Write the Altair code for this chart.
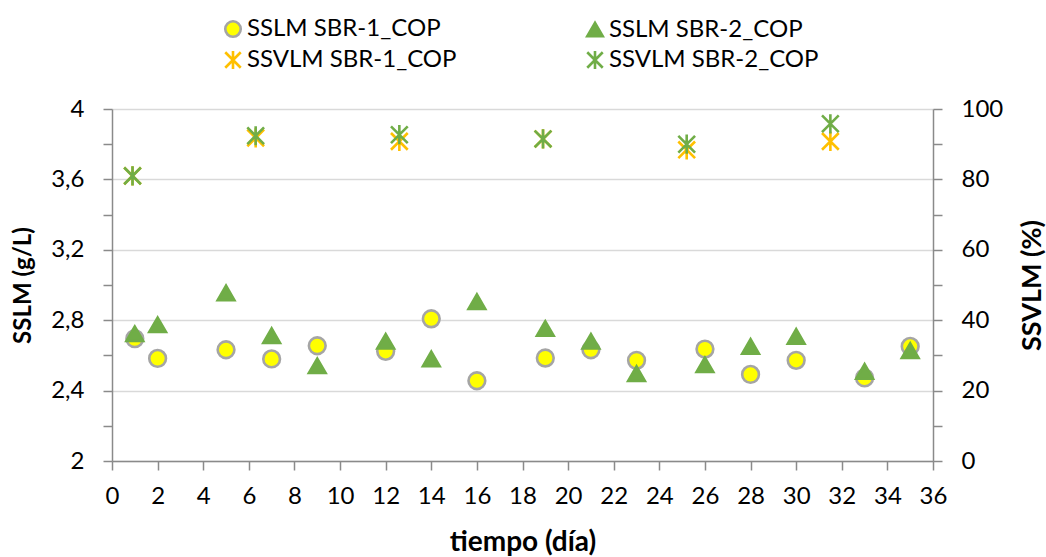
import altair as alt
import pandas as pd

# ---- data ----
days_sslm = [1, 2, 5, 7, 9, 12, 14, 16, 19, 21, 23, 26, 28, 30, 33, 35]
sslm_sbr1 = [2.695, 2.583, 2.632, 2.580, 2.655, 2.623, 2.808, 2.456,
             2.585, 2.632, 2.572, 2.636, 2.492, 2.572, 2.472, 2.651]
sslm_sbr2 = [2.723, 2.774, 2.955, 2.712, 2.541, 2.680, 2.580, 2.905,
             2.753, 2.680, 2.496, 2.547, 2.651, 2.708, 2.509, 2.627]

days_ssvlm = [0.9, 6.3, 12.6, 18.9, 25.2, 31.5]
ssvlm_sbr1 = [81.0, 91.8, 90.8, 91.5, 88.4, 90.8]
ssvlm_sbr2 = [81.0, 92.4, 92.7, 91.5, 90.0, 95.8]

series_names = ["SSLM SBR-1_COP", "SSLM SBR-2_COP", "SSVLM SBR-1_COP", "SSVLM SBR-2_COP"]
fills = ["#FFFF00", "#70AD47", "transparent", "transparent"]
strokes = ["#A5A5A5", "#70AD47", "#FFC000", "#70AD47"]
star = "M-1,-1L1,1M-1,1L1,-1M0,-1.15L0,1.15"
shapes = ["circle", "triangle-up", star, star]

x_ticks = list(range(0, 37, 2))
y_left_ticks = [round(2 + 0.2 * i, 1) for i in range(11)]
y_right_ticks = list(range(0, 101, 10))

# ---- tables ----
df_left = pd.DataFrame(
    [{"day": d, "value": v, "serie": series_names[0]} for d, v in zip(days_sslm, sslm_sbr1)]
    + [{"day": d, "value": v, "serie": series_names[1]} for d, v in zip(days_sslm, sslm_sbr2)]
)
df_right = pd.DataFrame(
    [{"day": d, "value": v, "serie": series_names[2]} for d, v in zip(days_ssvlm, ssvlm_sbr1)]
    + [{"day": d, "value": v, "serie": series_names[3]} for d, v in zip(days_ssvlm, ssvlm_sbr2)]
)

FONT = "Lato"
AXIS_COLOR = "#8A8A8A"

x_enc = alt.X(
    "day:Q",
    title="tiempo (día)",
    scale=alt.Scale(domain=[0, 36], nice=False, zero=False),
    axis=alt.Axis(
        values=x_ticks, grid=False, tickSize=9, labelPadding=14,
        labelFlush=False, labelOverlap=False, titleY=81, titleBaseline="middle",
        titleFontSize=28,
    ),
)
fill_enc = alt.Fill("serie:N", title=None,
                    scale=alt.Scale(domain=series_names, range=fills))
stroke_enc = alt.Stroke("serie:N", title=None,
                        scale=alt.Scale(domain=series_names, range=strokes))
shape_enc = alt.Shape("serie:N", title=None,
                      scale=alt.Scale(domain=series_names, range=shapes))

point = dict(size=280, strokeWidth=2.6, opacity=1, filled=False)

left = alt.Chart(df_left).mark_point(**point).encode(
    x=x_enc,
    y=alt.Y(
        "value:Q",
        title="SSLM (g/L)",
        scale=alt.Scale(domain=[2, 4], nice=False, zero=False),
        axis=alt.Axis(
            orient="left", values=y_left_ticks, tickSize=9, labelPadding=19,
            labelOverlap=False,
            labelExpr="round(datum.value*10) % 4 == 0 ? replace(format(datum.value, '.1~f'), '.', ',') : ''",
            grid=True,
            gridOpacity={"condition": {"test": "round(datum.value*10) % 4 != 0", "value": 0}, "value": 1},
            titleX=-89, titleBaseline="middle", titleFontSize=24,
        ),
    ),
    fill=fill_enc, stroke=stroke_enc, shape=shape_enc,
)

right = alt.Chart(df_right).mark_point(**point).encode(
    x=x_enc,
    y=alt.Y(
        "value:Q",
        title="SSVLM (%)",
        scale=alt.Scale(domain=[0, 100], nice=False),
        axis=alt.Axis(
            orient="right", values=y_right_ticks, tickSize=9, labelPadding=19,
            labelOverlap=False,
            labelExpr="datum.value % 20 == 0 ? datum.label : ''",
            grid=False, titleAngle=270, titleX=99, titleBaseline="middle",
            titleFontSize=27,
        ),
    ),
    fill=fill_enc, stroke=stroke_enc, shape=shape_enc,
)

chart = (
    alt.layer(left, right)
    .resolve_scale(y="independent")
    .properties(
        width=821, height=352,
        padding={"left": 112, "top": 109, "right": 113, "bottom": 96},
        autosize=alt.AutoSizeParams(type="none"),
        background="white",
    )
    .configure_view(stroke=None)
    .configure_axis(
        labelFont=FONT, labelFontSize=24, labelColor="#000000",
        titleFont=FONT, titleFontSize=24, titleFontWeight="bold", titleColor="#000000",
        domainColor=AXIS_COLOR, domainWidth=1.5,
        tickColor=AXIS_COLOR, tickWidth=1.5,
        gridColor="#D9D9D9", gridWidth=1.5,
    )
    .configure_legend(
        orient="none", legendX=109, legendY=-92, columns=2, direction="horizontal",
        columnPadding=125, rowPadding=3,
        labelFont=FONT, labelFontSize=24, labelColor="#000000", labelLimit=400,
        labelOffset=2, symbolSize=240, symbolStrokeWidth=2.6,
    )
)

chart.save("out.html", embed_options={"renderer": "svg", "actions": False})
